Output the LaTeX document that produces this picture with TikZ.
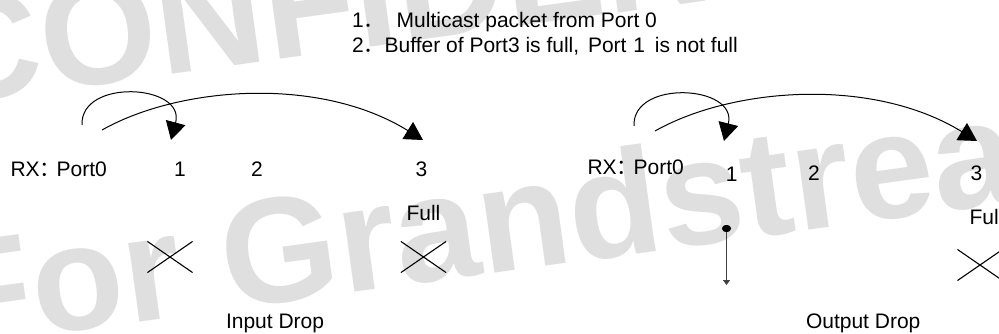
\documentclass[tikz,border=0pt]{standalone}
\usepackage{fontspec}
\setmainfont{Liberation Sans}
\newfontfamily\cjk{Noto Sans CJK SC}
\usetikzlibrary{arrows.meta,shapes.geometric,shapes.misc}
\definecolor{wm}{gray}{0.875}
\begin{document}
\begin{tikzpicture}[x=1pt,y=-1pt,
  lbl/.style={inner sep=0pt, outer sep=0pt, font=\fontsize{21}{25}\selectfont},
  wmark/.style={inner sep=0pt, outer sep=0pt, text=wm, rotate=7.8, anchor=base west,
                font=\fontsize{150}{150}\bfseries\selectfont},
  arc/.style={line width=1pt, -{Triangle[length=18pt,width=20pt]}},
  crossmark/.style={draw, cross out, line width=1.1pt, minimum width=44pt, minimum height=30pt, inner sep=0pt}]
\useasboundingbox (0,0) rectangle (999,334);
\fill[white] (0,0) rectangle (999,334);
% watermark
\node[wmark] (wm1) at (-60,106) {CONFIDENTIAL};
\node[wmark] (wm2) at (-52,348) {For Grandstream};
% header
\node[lbl, anchor=base west] (h1) at (352,28) {1{\cjk ．}\hspace{12pt}Multicast packet from Port 0};
\node[lbl, anchor=base west] (h2) at (352,53) {2{\cjk ．}Buffer of Port3 is full,\hspace{3pt} Port\hspace{1pt} 1\hspace{4pt} is not full};
% left diagram
\node[lbl, anchor=base west] (rx1) at (10.5,177) {RX{\cjk ：}\hspace{-4pt}Port0};
\node[lbl, anchor=base] (p1a) at (180,177) {1};
\node[lbl, anchor=base] (p2a) at (257,177) {2};
\node[lbl, anchor=base] (p3a) at (421.5,176) {3};
\node[lbl, anchor=base west] (fulla) at (406.5,220) {Full};
\node[crossmark] (xa1) at (170,257) {};
\node[crossmark] (xa3) at (423.5,257) {};
\node[lbl, anchor=base west] (ind) at (226,328) {Input Drop};
\coordinate (s1) at (82,125);
\coordinate (e1) at (171,140);
\coordinate (s2) at (102,130);
\coordinate (e2) at (423,140);
\draw[arc] (s1) .. controls (80,78) and (186,84) .. (e1);
\draw[arc] (s2) .. controls (180,86) and (320,76) .. (e2);
% right diagram
\node[lbl, anchor=base west] (rx2) at (587.5,175) {RX{\cjk ：}\hspace{-4pt}Port0};
\node[lbl, anchor=base] (p1b) at (731.8,182) {1};
\node[lbl, anchor=base] (p2b) at (814,180) {2};
\node[lbl, anchor=base] (p3b) at (976.5,181) {3};
\node[lbl, anchor=base west] (fullb) at (969.5,224) {Full};
\node[crossmark] (xb3) at (980,265) {};
\node[lbl, anchor=base west] (outd) at (806,328) {Output Drop};
\coordinate (s3) at (634,126);
\coordinate (e3) at (724,141);
\coordinate (s4) at (655,131);
\coordinate (e4) at (977,141);
\draw[arc] (s3) .. controls (632,79) and (738,85) .. (e3);
\draw[arc] (s4) .. controls (733,87) and (873,77) .. (e4);
\coordinate (drop) at (726.5,285);
\node[ellipse, fill=black, minimum width=9pt, minimum height=7pt, inner sep=0pt] (dot) at (726.5,228.5) {};
\draw[line width=1.2pt, black!75, -{Triangle[length=5pt,width=7pt]}] (dot.center) -- (drop);
\node[ellipse, fill=black, minimum width=9pt, minimum height=7pt, inner sep=0pt] at (dot) {};
\end{tikzpicture}
\end{document}
